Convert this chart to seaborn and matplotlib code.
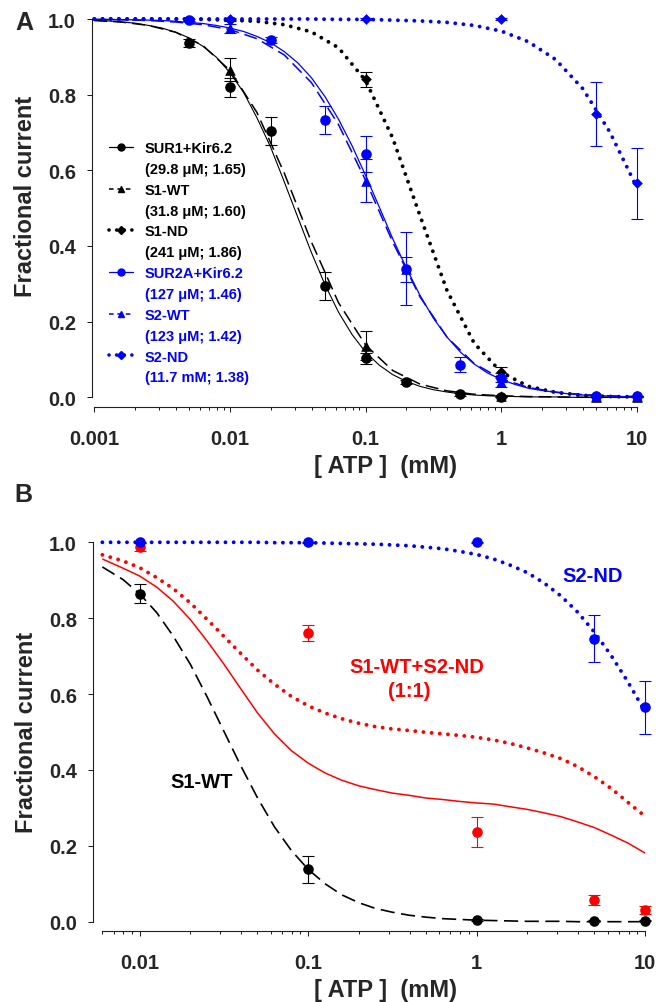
import numpy as np
import pandas as pd
import matplotlib
matplotlib.use("Agg")
import matplotlib.pyplot as plt
import seaborn as sns
from matplotlib.lines import Line2D
from matplotlib.ticker import FixedLocator, FixedFormatter, LogLocator, NullFormatter

# ---------------- DATA ----------------
# Panel A fitted curves
curve_x_A = [0.001, 0.00158, 0.00251, 0.00398, 0.00631, 0.01, 0.0158, 0.0251, 0.0398, 0.0631,
             0.1, 0.158, 0.251, 0.398, 0.631, 1.0, 1.58, 2.51, 3.98, 6.31, 10.0]
curve_x_A_fine = [0.001, 0.00126, 0.00158, 0.002, 0.00251, 0.00316, 0.00398, 0.00501, 0.00631, 0.00794,
                  0.01, 0.0126, 0.0158, 0.02, 0.0251, 0.0316, 0.0398, 0.0501, 0.0631, 0.0794,
                  0.1, 0.126, 0.158, 0.2, 0.251, 0.316, 0.398, 0.501, 0.631, 0.794,
                  1.0, 1.26, 1.58, 2.0, 2.51, 3.16, 3.98, 5.01, 6.31, 7.94, 10.0]
fit_sur1 = [0.996, 0.995, 0.992, 0.989, 0.983, 0.976, 0.965, 0.950, 0.928, 0.899,
            0.858, 0.806, 0.739, 0.660, 0.570, 0.476, 0.383, 0.298, 0.225, 0.166,
            0.119, 0.085, 0.060, 0.042, 0.029, 0.020, 0.014, 0.009, 0.006, 0.004,
            0.003, 0.002, 0.001, 0.001, 0.001, 0.000, 0.000, 0.000, 0.000, 0.000, 0.000]
fit_sur2a = [0.999, 0.999, 0.998, 0.998, 0.997, 0.996, 0.994, 0.991, 0.988, 0.983,
             0.976, 0.967, 0.954, 0.937, 0.914, 0.884, 0.845, 0.795, 0.735, 0.665,
             0.586, 0.503, 0.420, 0.341, 0.270, 0.209, 0.159, 0.119, 0.088, 0.064,
             0.047, 0.034, 0.024, 0.018, 0.013, 0.009, 0.006, 0.005, 0.003, 0.002, 0.002]
fit_s1wt = [0.996, 0.992, 0.983, 0.965, 0.930, 0.864, 0.753, 0.593, 0.411, 0.250, 0.138, 0.071,
            0.035, 0.017, 0.008, 0.004, 0.002, 0.001, 0.000, 0.000, 0.000]
fit_s1nd = [1.000, 1.000, 1.000, 1.000, 0.999, 0.997, 0.994, 0.985, 0.966, 0.924, 0.837, 0.686,
            0.481, 0.282, 0.143, 0.066, 0.029, 0.013, 0.005, 0.002, 0.001]
fit_s2wt = [0.999, 0.998, 0.996, 0.992, 0.985, 0.972, 0.948, 0.905, 0.832, 0.721, 0.573, 0.411,
            0.266, 0.159, 0.089, 0.049, 0.026, 0.014, 0.007, 0.004, 0.002]
fit_s2nd = [1.000, 1.000, 1.000, 1.000, 1.000, 1.000, 1.000, 1.000, 1.000, 0.999, 0.999, 0.997,
            0.995, 0.991, 0.983, 0.968, 0.940, 0.893, 0.816, 0.701, 0.554]

# Panel A data points (x, mean, error)
sur1_x = [0.005, 0.01, 0.02, 0.05, 0.1, 0.2, 0.5, 1.0]
sur1_y = [0.936, 0.819, 0.705, 0.295, 0.103, 0.041, 0.008, 0.002]
sur1_e = [0.011, 0.025, 0.037, 0.037, 0.015, 0.006, 0.004, 0.002]

s1wt_x = [0.01, 0.1, 1.0, 5.0, 10.0]
s1wt_y = [0.866, 0.136, 0.004, 0.002, 0.002]
s1wt_e = [0.030, 0.038, 0.003, 0.001, 0.001]

s1nd_x = [0.01, 0.1, 1.0, 5.0, 10.0]
s1nd_y = [0.998, 0.841, 0.068, 0.004, 0.003]
s1nd_e = [0.003, 0.020, 0.012, 0.002, 0.001]

sur2a_x = [0.005, 0.02, 0.05, 0.1, 0.2, 0.5, 1.0, 5.0, 10.0]
sur2a_y = [0.997, 0.944, 0.734, 0.643, 0.340, 0.086, 0.052, 0.004, 0.003]
sur2a_e = [0.003, 0.008, 0.037, 0.047, 0.096, 0.020, 0.012, 0.002, 0.001]

s2wt_x = [0.01, 0.1, 0.2, 1.0, 5.0, 10.0]
s2wt_y = [0.975, 0.572, 0.339, 0.040, 0.004, 0.003]
s2wt_e = [0.012, 0.057, 0.033, 0.012, 0.002, 0.001]

s2nd_x = [0.01, 0.1, 1.0, 5.0, 10.0]
s2nd_y = [1.000, 1.000, 1.000, 0.749, 0.566]
s2nd_e = [0.002, 0.002, 0.002, 0.084, 0.094]

legend_names = ["SUR1+Kir6.2", "(29.8 \u03bcM; 1.65)", "S1-WT", "(31.8 \u03bcM; 1.60)",
                "S1-ND", "(241 \u03bcM; 1.86)", "SUR2A+Kir6.2", "(127 \u03bcM; 1.46)",
                "S2-WT", "(123 \u03bcM; 1.42)", "S2-ND", "(11.7 mM; 1.38)"]

# Panel B curves
curve_x_B = [0.006, 0.00794, 0.01, 0.0126, 0.0158, 0.02, 0.0251, 0.0316, 0.0398, 0.0501, 0.0631,
             0.0794, 0.1, 0.126, 0.158, 0.2, 0.251, 0.316, 0.398, 0.501, 0.631, 0.794,
             1.0, 1.26, 1.58, 2.0, 2.51, 3.16, 3.98, 5.01, 6.31, 7.94, 10.0]
fitB_s1wt = [0.935, 0.902, 0.864, 0.815, 0.753, 0.678, 0.593, 0.502, 0.411, 0.326, 0.250,
             0.188, 0.138, 0.100, 0.071, 0.050, 0.035, 0.025, 0.017, 0.012, 0.008, 0.006,
             0.004, 0.003, 0.002, 0.001, 0.001, 0.001, 0.000, 0.000, 0.000, 0.000, 0.000]
fitB_s2nd = [1.000, 1.000, 1.000, 1.000, 1.000, 1.000, 1.000, 1.000, 1.000, 1.000, 0.999,
             0.999, 0.999, 0.998, 0.997, 0.996, 0.995, 0.993, 0.991, 0.987, 0.983, 0.976,
             0.968, 0.956, 0.940, 0.920, 0.893, 0.859, 0.816, 0.763, 0.701, 0.631, 0.554]
fitB_mix_solid = [0.956, 0.932, 0.911, 0.882, 0.845, 0.796, 0.740, 0.679, 0.614, 0.550, 0.495,
                  0.451, 0.418, 0.392, 0.373, 0.358, 0.348, 0.339, 0.333, 0.326, 0.322, 0.317,
                  0.313, 0.310, 0.303, 0.296, 0.287, 0.277, 0.263, 0.248, 0.228, 0.207, 0.181]
fitB_mix_dotted = [0.967, 0.951, 0.933, 0.907, 0.878, 0.840, 0.797, 0.752, 0.707, 0.663, 0.626,
                   0.594, 0.569, 0.550, 0.535, 0.523, 0.514, 0.508, 0.504, 0.499, 0.495, 0.491,
                   0.486, 0.479, 0.470, 0.458, 0.445, 0.430, 0.409, 0.382, 0.351, 0.314, 0.278]

# Panel B data points
B_x = [0.01, 0.1, 1.0, 5.0, 10.0]
B_s1wt_y = [0.865, 0.138, 0.004, 0.003, 0.003]
B_s1wt_e = [0.026, 0.036, 0.002, 0.001, 0.001]
B_s2nd_y = [1.000, 1.000, 1.000, 0.746, 0.565]
B_s2nd_e = [0.002, 0.002, 0.002, 0.062, 0.070]
B_mix_y = [0.988, 0.760, 0.236, 0.058, 0.030]
B_mix_e = [0.010, 0.021, 0.039, 0.013, 0.011]

yticks = [0.0, 0.2, 0.4, 0.6, 0.8, 1.0]
xticks_A = [0.001, 0.01, 0.1, 1, 10]
xticklabels_A = ["0.001", "0.01", "0.1", "1", "10"]
xticks_B = [0.01, 0.1, 1, 10]
xticklabels_B = ["0.01", "0.1", "1", "10"]

# ---------------- STYLE ----------------
sns.set_style("ticks")
plt.rcParams['font.family'] = ['Liberation Sans', 'DejaVu Sans']
plt.rcParams['font.weight'] = 'bold'
plt.rcParams['axes.labelweight'] = 'bold'

BLUE = '#0000FF'
RED = '#FF0000'
BLACK = '#000000'
DOT = (0, (0.01, 2.1))
DASH = (0, (8.5, 3.9))

W, H = 662, 1003
fig = plt.figure(figsize=(W / 100, H / 100), dpi=100)


def px_axes(l, r, top, bottom):
    return [l / W, 1 - bottom / H, (r - l) / W, (bottom - top) / H]


axA = fig.add_axes(px_axes(94.3, 637, 20, 398.3))
axB = fig.add_axes(px_axes(102.3, 645, 543.3, 922.7))


def style_axes(ax, xlim, left_off, bottom_off, xt, xtl):
    ax.set_xscale('log')
    ax.set_xlim(*xlim)
    ax.set_ylim(0, 1)
    ax.set_facecolor('none')
    for s in ['top', 'right']:
        ax.spines[s].set_visible(False)
    for s in ['left', 'bottom']:
        ax.spines[s].set_linewidth(0.8)
        ax.spines[s].set_color('#202020')
    ax.spines['left'].set_position(('outward', left_off * 0.72))
    ax.spines['bottom'].set_position(('outward', bottom_off * 0.72))
    ax.xaxis.set_major_locator(FixedLocator(xt))
    ax.xaxis.set_major_formatter(FixedFormatter(xtl))
    ax.xaxis.set_minor_locator(LogLocator(base=10, subs=np.arange(2, 10)))
    ax.xaxis.set_minor_formatter(NullFormatter())
    ax.yaxis.set_major_locator(FixedLocator(yticks))
    ax.yaxis.set_major_formatter(FixedFormatter([f"{v:.1f}" for v in yticks]))
    ax.tick_params(axis='both', which='major', direction='out', length=3.4, width=0.75,
                   labelsize=14.5, color='#202020')
    ax.tick_params(axis='x', which='minor', direction='out', length=2.4, width=0.75, color='#202020')
    ax.tick_params(axis='y', which='major', pad=8.4)
    ax.tick_params(axis='x', which='major', pad=12.4)
    for lab in ax.get_xticklabels() + ax.get_yticklabels():
        lab.set_fontweight('bold')


style_axes(axA, (0.001, 10), 2, 10, xticks_A, xticklabels_A)
style_axes(axB, (0.005995, 10), 9, 9.6, xticks_B, xticklabels_B)


def curve(ax, x, y, color, ls, lw, cap='butt'):
    sns.lineplot(x=x, y=y, ax=ax, color=color, linestyle=ls, linewidth=lw,
                 dash_capstyle=cap, solid_capstyle='butt', clip_on=False, zorder=2,
                 legend=False, sort=False)


def points(ax, x, y, e, color, marker, s):
    ax.errorbar(x, y, yerr=e, fmt='none', ecolor=color, elinewidth=0.8, capsize=4.3,
                capthick=0.8, zorder=3, clip_on=False)
    sns.scatterplot(x=x, y=y, ax=ax, color=color, marker=marker, s=s, linewidth=0,
                    edgecolor=color, zorder=4, clip_on=False, legend=False)


# ---------------- PANEL A ----------------
curve(axA, curve_x_A_fine, fit_sur1, BLACK, '-', 0.8)
curve(axA, curve_x_A, fit_s1wt, BLACK, DASH, 1.1)
curve(axA, curve_x_A, fit_s1nd, BLACK, DOT, 2.8, 'round')
curve(axA, curve_x_A_fine, fit_sur2a, BLUE, '-', 0.9)
curve(axA, curve_x_A, fit_s2wt, BLUE, DASH, 1.1)
curve(axA, curve_x_A, fit_s2nd, BLUE, DOT, 2.8, 'round')

points(axA, s1nd_x, s1nd_y, s1nd_e, BLACK, 'D', 30)
points(axA, s1wt_x, s1wt_y, s1wt_e, BLACK, '^', 58)
points(axA, sur1_x, sur1_y, sur1_e, BLACK, 'o', 58)
points(axA, s2wt_x, s2wt_y, s2wt_e, BLUE, '^', 58)
points(axA, sur2a_x, sur2a_y, sur2a_e, BLUE, 'o', 58)
points(axA, s2nd_x, s2nd_y, s2nd_e, BLUE, 'D', 30)

axA.set_xlabel("[ ATP ]  (mM)", fontsize=17, fontweight='bold')
axA.xaxis.set_label_coords(0.537, -0.1975)
axA.xaxis.label.set_va('baseline')
axA.set_ylabel("Fractional current", fontsize=17, fontweight='bold')
axA.yaxis.set_label_coords(-0.126, 0.535)
axA.yaxis.label.set_va('center')

blank = Line2D([], [], linestyle='none')
handles = [
    Line2D([], [], color=BLACK, lw=0.9, marker='o', ms=5),
    blank,
    Line2D([], [], color=BLACK, lw=1.1, ls=(0, (3, 2.5)), marker='^', ms=5),
    blank,
    Line2D([], [], color=BLACK, lw=2.6, ls=DOT, dash_capstyle='round', marker='D', ms=4),
    blank,
    Line2D([], [], color=BLUE, lw=0.9, marker='o', ms=5),
    blank,
    Line2D([], [], color=BLUE, lw=1.1, ls=(0, (3, 2.5)), marker='^', ms=5),
    blank,
    Line2D([], [], color=BLUE, lw=2.6, ls=DOT, dash_capstyle='round', marker='D', ms=4),
    blank,
]
label_colors = [BLACK] * 6 + [BLUE] * 6
axA.legend(handles, legend_names, loc='upper left', bbox_to_anchor=(109 / W, 1 - 142 / H),
           bbox_transform=fig.transFigure, frameon=False, prop={'weight': 'bold', 'size': 10.5},
           handlelength=1.65, handletextpad=0.8, labelspacing=0.47, borderpad=0,
           borderaxespad=0, labelcolor=label_colors, numpoints=1)

# ---------------- PANEL B ----------------
curve(axB, curve_x_B, fitB_s1wt, BLACK, DASH, 1.2)
curve(axB, curve_x_B, fitB_s2nd, BLUE, DOT, 2.8, 'round')
curve(axB, curve_x_B, fitB_mix_solid, RED, '-', 1.1)
curve(axB, curve_x_B, fitB_mix_dotted, RED, DOT, 2.8, 'round')

points(axB, B_x, B_s1wt_y, B_s1wt_e, BLACK, 'o', 58)
points(axB, B_x, B_mix_y, B_mix_e, RED, 'o', 58)
points(axB, B_x, B_s2nd_y, B_s2nd_e, BLUE, 'o', 58)

axB.set_xlabel("[ ATP ]  (mM)", fontsize=17, fontweight='bold')
axB.xaxis.set_label_coords(0.522, -0.195)
axB.xaxis.label.set_va('baseline')
axB.set_ylabel("Fractional current", fontsize=17, fontweight='bold')
axB.yaxis.set_label_coords(-0.139, 0.501)
axB.yaxis.label.set_va('center')

axB.text(4.91, 0.899, "S2-ND", color=BLUE, fontsize=14.5, fontweight='bold',
         ha='center', va='baseline')
axB.text(0.4436, 0.657, "S1-WT+S2-ND", color=RED, fontsize=14.5, fontweight='bold',
         ha='center', va='baseline')
axB.text(0.401, 0.596, "(1:1)", color=RED, fontsize=14.5, fontweight='bold',
         ha='center', va='baseline')
axB.text(0.02344, 0.354, "S1-WT", color=BLACK, fontsize=14.5, fontweight='bold',
         ha='center', va='baseline')

fig.text(15 / W, 1 - 30 / H, "A", fontsize=18, fontweight='bold', ha='left', va='baseline')
fig.text(14 / W, 1 - 502 / H, "B", fontsize=18, fontweight='bold', ha='left', va='baseline')

fig.savefig("out.png", dpi=100, facecolor='white')
